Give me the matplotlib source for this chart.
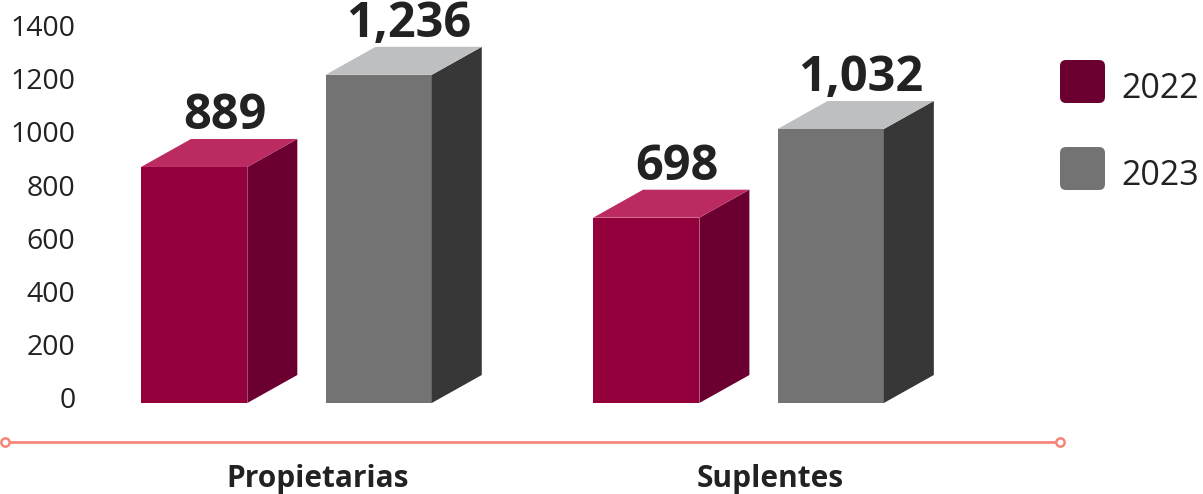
import matplotlib
matplotlib.use("Agg")
import matplotlib.pyplot as plt
import matplotlib.transforms as mtransforms
from matplotlib.patches import Polygon, FancyBboxPatch
from matplotlib.lines import Line2D

plt.rcParams["font.family"] = ["Open Sans", "DejaVu Sans"]

categories = ["Propietarias", "Suplentes"]
years = ["2022", "2023"]
values_2022 = [889, 698]
values_2023 = [1236, 1032]
value_labels_2022 = ["889", "698"]
value_labels_2023 = ["1,236", "1,032"]
yticks = [0, 200, 400, 600, 800, 1000, 1200, 1400]

# colours: front, side, top
colors = {
    "2022": ("#93003C", "#6B0030", "#BC2A62"),
    "2023": ("#737373", "#373737", "#BEBFC1"),
}
legend_colors = {"2022": "#6B0030", "2023": "#737373"}
text_color = "#222222"

W, H, DPI = 12.03, 4.94, 100
fig = plt.figure(figsize=(W, H), dpi=DPI)

# axes: left edge at px 88, baseline at px 403 from top, reaching the top
ax_left, ax_bottom = 88 / 1203, (494 - 403) / 494
ax = fig.add_axes([ax_left, ax_bottom, 1 - ax_left, 1 - ax_bottom])
ax.set_xlim(-0.4934, 1.973)
ax.set_ylim(0, 403 / 0.2655)
for s in ax.spines.values():
    s.set_visible(False)
ax.set_xticks([])
ax.set_yticks(yticks)
ax.set_yticklabels([str(t) for t in yticks])
ax.tick_params(axis="y", length=0, pad=9, labelsize=20.5, labelcolor=text_color)
# labels sit a little above their gridline in the original
lift = mtransforms.ScaledTranslation(0, 4 / 72, fig.dpi_scale_trans)
for lab in ax.get_yticklabels():
    lab.set_transform(lab.get_transform() + lift)

bar_w = 0.235
gap = 0.173
# depth offset: 50 px right, 28 px up
dx = 50 / 452
dy = 28 / 0.2655
offsets = [-0.376, -0.376 + bar_w + gap]


def draw_bar(x0, h, year, label):
    front, side, top = colors[year]
    ax.bar(x0, h, width=bar_w, align="edge", color=front, linewidth=0, zorder=2)
    ax.add_patch(Polygon([(x0 + bar_w, 0), (x0 + bar_w + dx, dy),
                          (x0 + bar_w + dx, h + dy), (x0 + bar_w, h)],
                         closed=True, facecolor=side, linewidth=0, zorder=2))
    ax.add_patch(Polygon([(x0, h), (x0 + bar_w, h),
                          (x0 + bar_w + dx, h + dy), (x0 + dx, h + dy)],
                         closed=True, facecolor=top, linewidth=0, zorder=2))
    ax.text(x0 + (bar_w + dx) / 2 + 0.012, h + dy - 8, label, ha="center", va="bottom",
            fontsize=35, fontweight="bold", color=text_color, zorder=3)


for i, cat in enumerate(categories):
    draw_bar(i + offsets[0], values_2022[i], "2022", value_labels_2022[i])
    draw_bar(i + offsets[1], values_2023[i], "2023", value_labels_2023[i])
    fig.text(ax.transData.transform((i + 0.015, 0))[0] / (W * DPI), 0.03, cat,
             ha="center", va="center", fontsize=21.5, fontweight="bold", color=text_color)

# salmon baseline with hollow end circles
line = Line2D([5 / 1203, 1060 / 1203], [1 - 442 / 494] * 2, transform=fig.transFigure,
              color="#F4867A", linewidth=2, marker="o", markersize=6,
              markerfacecolor="white", markeredgecolor="#F4867A", markeredgewidth=1.8)
fig.add_artist(line)

# legend with rounded squares
legend_rows = [(years[0], 103), (years[1], 190)]
for yr, bottom_px in legend_rows:
    y0 = (494 - bottom_px) / 100
    box = FancyBboxPatch((10.66, y0 + 0.06), 0.33, 0.31,
                         boxstyle="round,pad=0.06", transform=fig.dpi_scale_trans,
                         facecolor=legend_colors[yr], edgecolor="none")
    fig.add_artist(box)
    fig.text(11.21, y0 + 0.14, yr, transform=fig.dpi_scale_trans, ha="left",
             va="center", fontsize=24.5, color=text_color)

fig.savefig("out.png", dpi=DPI)
